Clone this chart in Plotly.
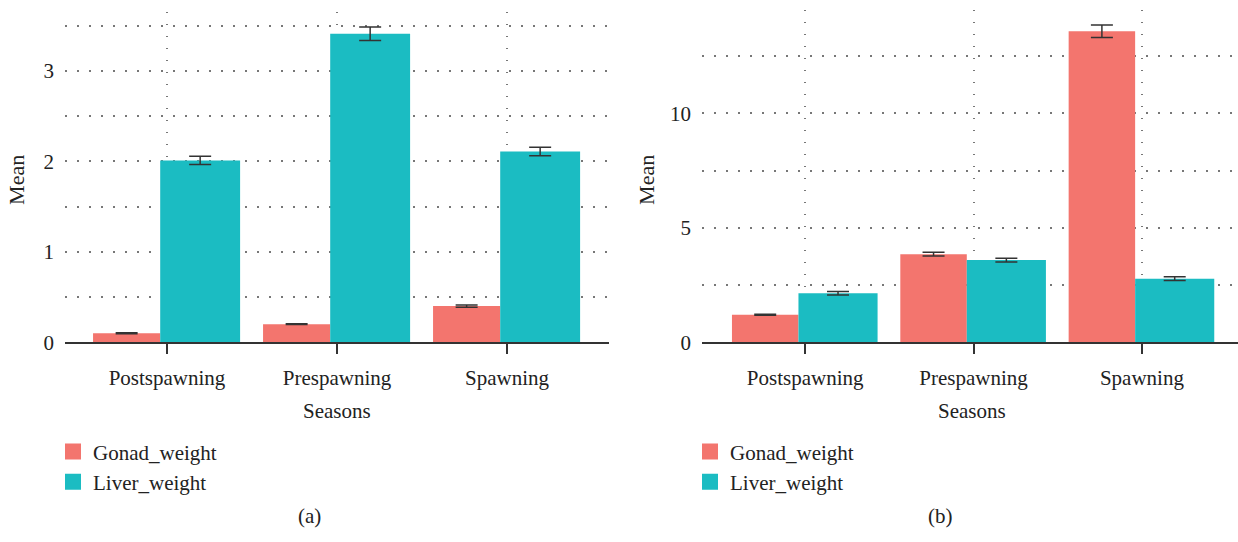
import plotly.graph_objects as go

# Season categories and group means with error half-widths
seasons = ["Postspawning", "Prespawning", "Spawning"]

gonad_a = [0.10, 0.20, 0.40]
gonad_a_err = [0.005, 0.005, 0.012]
liver_a = [2.01, 3.41, 2.11]
liver_a_err = [0.045, 0.075, 0.047]

gonad_b = [1.20, 3.85, 13.59]
gonad_b_err = [0.02, 0.08, 0.27]
liver_b = [2.14, 3.59, 2.78]
liver_b_err = [0.08, 0.08, 0.08]

series_names = ["Gonad_weight", "Liver_weight"]
colors = ["#F3756E", "#1BBCC2"]

W, H = 1238, 542
FONT = "Liberation Serif"
TXT = "#222222"
GRID = "#777777"
DOTS = "1.5px,10.5px"

fig = go.Figure()
xpos = list(range(len(seasons)))


def add_panel(gonad, gonad_err, liver, liver_err, xa, ya, legend):
    specs = [
        (gonad, gonad_err, -0.435, 0.395),
        (liver, liver_err, -0.04, 0.47),
    ]
    for (vals, errs, off, wid), name, col in zip(specs, series_names, colors):
        fig.add_trace(go.Bar(
            x=xpos, y=vals, name=name, offset=off, width=wid,
            marker=dict(color=col, line=dict(width=0)),
            error_y=dict(type="data", array=errs, color="#333333",
                         thickness=1.5, width=11),
            xaxis=xa, yaxis=ya, showlegend=False,
        ))
        # legend swatch
        fig.add_trace(go.Scatter(
            x=[None], y=[None], mode="markers", name=name,
            marker=dict(symbol="square", size=16, color=col),
            xaxis=xa, yaxis=ya, legend=legend, showlegend=True,
        ))


add_panel(gonad_a, gonad_a_err, liver_a, liver_a_err, "x", "y", "legend")
add_panel(gonad_b, gonad_b_err, liver_b, liver_b_err, "x2", "y2", "legend2")

xcommon = dict(
    tickmode="array", tickvals=xpos, ticktext=seasons,
    showgrid=True, gridcolor=GRID, gridwidth=1.5, griddash=DOTS,
    showline=True, linecolor="#333333", linewidth=1.5,
    ticks="outside", ticklen=10, tickwidth=1.5, tickcolor="#333333",
    tickfont=dict(family=FONT, size=21, color=TXT),
    ticklabelstandoff=6, zeroline=False, fixedrange=True,
)
ycommon = dict(
    showgrid=True, gridcolor=GRID, gridwidth=1.5, griddash=DOTS,
    showline=False, zeroline=False, ticks="",
    tickfont=dict(family=FONT, size=21, color=TXT),
    ticklabelstandoff=10,
)

y_bot = 1 - 350 / H
legend_style = dict(
    xanchor="left", yanchor="top",
    font=dict(family=FONT, size=21, color=TXT),
    bgcolor="rgba(0,0,0,0)", tracegroupgap=0, itemsizing="trace",
)
fig.update_layout(
    width=W, height=H,
    margin=dict(l=0, r=0, t=0, b=0),
    paper_bgcolor="white", plot_bgcolor="white",
    barmode="overlay",
    xaxis=dict(domain=[65 / W, 609 / W], range=[-0.6, 2.6], anchor="y", **xcommon),
    yaxis=dict(domain=[y_bot, 1 - 12 / H], range=[0, 3.654], anchor="x",
               tickvals=[0, 1, 2, 3],
               minor=dict(dtick=0.5, tick0=0, showgrid=True, gridcolor=GRID,
                          gridwidth=1.5, griddash=DOTS),
               **ycommon),
    xaxis2=dict(domain=[702 / W, 1.0], range=[-0.613, 2.571], anchor="y2", **xcommon),
    yaxis2=dict(domain=[y_bot, 1 - 10 / H], range=[0, 14.53], anchor="x2",
                tickvals=[0, 5, 10],
                minor=dict(dtick=2.5, tick0=0, showgrid=True, gridcolor=GRID,
                           gridwidth=1.5, griddash=DOTS),
                **ycommon),
    legend=dict(x=53 / W, y=1 - 441 / H, **legend_style),
    legend2=dict(x=690 / W, y=1 - 441 / H, **legend_style),
)


def label(text, x, y, size=21, angle=0):
    fig.add_annotation(text=text, x=x / W, y=1 - y / H, xref="paper", yref="paper",
                       showarrow=False, textangle=angle,
                       font=dict(family=FONT, size=size, color=TXT),
                       xanchor="center", yanchor="middle")


label("Mean", 17, 184, 22, -90)
label("Mean", 647, 184, 22, -90)
label("Seasons", 337, 420)
label("Seasons", 972, 420)
label("(a)", 309, 528)
label("(b)", 940, 528)

fig.write_html("out.html")
